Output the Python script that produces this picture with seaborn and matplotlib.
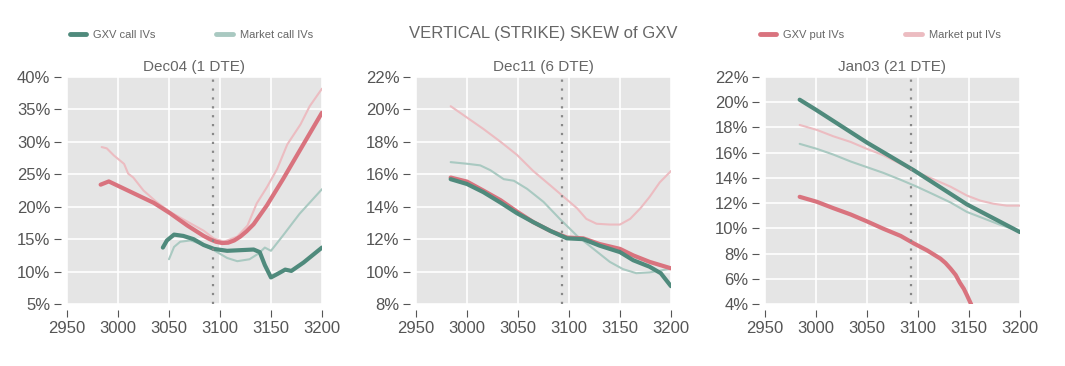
import pandas as pd
import seaborn as sns
import matplotlib.pyplot as plt
from matplotlib.ticker import FuncFormatter, MultipleLocator
from matplotlib.lines import Line2D
from matplotlib import font_manager

# ---- data (strike, IV in %) ----
spot = 3093

dec04_gxv_put_k = [2983, 2991, 3015, 3035, 3051, 3068, 3084, 3090, 3096, 3102, 3108, 3114, 3120, 3126, 3133,
                   3146, 3162, 3178, 3200]
dec04_gxv_put = [23.4, 23.9, 22.1, 20.6, 19.0, 17.1, 15.5, 15.0, 14.6, 14.4, 14.45, 14.8, 15.4, 16.2, 17.3,
                 20.2, 24.3, 28.6, 34.5]
dec04_mkt_put_k = [2984, 2989, 2996, 3006, 3010, 3015, 3025, 3038, 3051, 3068, 3084, 3094, 3104, 3117, 3127,
                   3136, 3146, 3156, 3166, 3179, 3188, 3200]
dec04_mkt_put = [29.2, 29.0, 27.9, 26.6, 25.1, 24.5, 22.5, 20.7, 19.2, 17.7, 16.3, 15.1, 14.6, 15.4, 17.1,
                 20.5, 23.0, 25.8, 29.6, 32.7, 35.5, 38.2]
dec04_gxv_call_k = [3044, 3048, 3055, 3064, 3074, 3084, 3094, 3107, 3120, 3133, 3139, 3144, 3150, 3156, 3164,
                    3170, 3182, 3200]
dec04_gxv_call = [13.7, 14.8, 15.7, 15.5, 15.0, 14.1, 13.5, 13.2, 13.3, 13.4, 13.0, 11.0, 9.1, 9.6, 10.3,
                  10.1, 11.4, 13.7]
dec04_mkt_call_k = [3050, 3055, 3061, 3071, 3081, 3094, 3107, 3117, 3129, 3138, 3144, 3150, 3162, 3178, 3200]
dec04_mkt_call = [11.9, 13.8, 14.6, 14.8, 14.3, 13.3, 12.1, 11.6, 11.9, 12.8, 13.7, 13.2, 15.6, 18.9, 22.7]

dec11_mkt_put_k = [2984, 3000, 3016, 3033, 3049, 3065, 3082, 3095, 3108, 3117, 3127, 3140, 3150, 3160, 3170,
                   3179, 3189, 3200]
dec11_mkt_put = [20.2, 19.5, 18.8, 18.0, 17.2, 16.2, 15.3, 14.6, 13.9, 13.25, 12.95, 12.9, 12.9, 13.25, 13.9,
                 14.6, 15.5, 16.2]
dec11_gxv_put_k = [2984, 3000, 3016, 3033, 3049, 3065, 3082, 3098, 3114, 3130, 3150, 3163, 3179, 3200]
dec11_gxv_put = [15.8, 15.55, 15.0, 14.4, 13.7, 13.05, 12.5, 12.1, 12.05, 11.7, 11.4, 11.0, 10.6, 10.2]
dec11_gxv_call_k = [2984, 3000, 3016, 3033, 3049, 3065, 3082, 3098, 3114, 3130, 3150, 3163, 3179, 3190, 3200]
dec11_gxv_call = [15.7, 15.4, 14.9, 14.25, 13.6, 13.05, 12.5, 12.05, 12.0, 11.6, 11.2, 10.7, 10.3, 9.9, 9.1]
dec11_mkt_call_k = [2984, 3000, 3013, 3023, 3036, 3046, 3059, 3075, 3091, 3108, 3124, 3140, 3153, 3166, 3179,
                    3189, 3200]
dec11_mkt_call = [16.75, 16.65, 16.55, 16.25, 15.7, 15.6, 15.1, 14.3, 13.25, 12.2, 11.4, 10.6, 10.15, 9.9, 9.95,
                  10.05, 10.2]

jan03_gxv_call_k = [2984, 3000, 3050, 3096, 3148, 3200]
jan03_gxv_call = [20.2, 19.4, 16.8, 14.6, 11.9, 9.7]
jan03_mkt_put_k = [2984, 3001, 3017, 3034, 3050, 3066, 3083, 3099, 3115, 3132, 3148, 3161, 3174, 3187, 3200]
jan03_mkt_put = [18.2, 17.8, 17.3, 16.85, 16.3, 15.8, 15.1, 14.45, 13.9, 13.3, 12.6, 12.2, 11.95, 11.8, 11.8]
jan03_mkt_call_k = [2984, 3001, 3017, 3034, 3050, 3066, 3083, 3099, 3115, 3132, 3148, 3164, 3180, 3200]
jan03_mkt_call = [16.7, 16.3, 15.85, 15.3, 14.85, 14.4, 13.85, 13.3, 12.7, 12.05, 11.3, 10.8, 10.3, 9.76]
jan03_gxv_put_k = [2984, 3001, 3017, 3034, 3050, 3066, 3083, 3096, 3109, 3115, 3122, 3127, 3132, 3137, 3141,
                   3145, 3148, 3152, 3156]
jan03_gxv_put = [12.5, 12.1, 11.6, 11.1, 10.55, 9.97, 9.4, 8.8, 8.25, 7.95, 7.6, 7.25, 6.8, 6.3, 5.7,
                 5.2, 4.7, 4.0, 3.2]

panel_titles = ["Dec04 (1 DTE)", "Dec11 (6 DTE)", "Jan03 (21 DTE)"]
panel_ylims = [(5, 40), (8, 22), (4, 22)]
panel_ysteps = [5, 2, 2]

c_gxv_call = "#4f8a7c"
c_mkt_call = "#a9c9c1"
c_gxv_put = "#d9737e"
c_mkt_put = "#ecbcc1"
grey = "#666666"

sns.set_style("darkgrid", {"axes.facecolor": "#e5e5e5", "grid.color": "white"})
plt.rcParams['font.family'] = ['Liberation Sans', 'DejaVu Sans']

# condensed face for the legend if the system has one
installed = {f.name for f in font_manager.fontManager.ttflist}
legend_font = "Liberation Sans Narrow" if "Liberation Sans Narrow" in installed else "Liberation Sans"
legend_size = 9.5 if legend_font == "Liberation Sans Narrow" else 8

panels = [
    [(dec04_mkt_call_k, dec04_mkt_call, c_mkt_call, 1.5), (dec04_mkt_put_k, dec04_mkt_put, c_mkt_put, 1.5),
     (dec04_gxv_call_k, dec04_gxv_call, c_gxv_call, 3.0), (dec04_gxv_put_k, dec04_gxv_put, c_gxv_put, 3.0)],
    [(dec11_mkt_call_k, dec11_mkt_call, c_mkt_call, 1.5), (dec11_mkt_put_k, dec11_mkt_put, c_mkt_put, 1.5),
     (dec11_gxv_put_k, dec11_gxv_put, c_gxv_put, 3.0), (dec11_gxv_call_k, dec11_gxv_call, c_gxv_call, 3.0)],
    [(jan03_mkt_call_k, jan03_mkt_call, c_mkt_call, 1.5), (jan03_mkt_put_k, jan03_mkt_put, c_mkt_put, 1.5),
     (jan03_gxv_put_k, jan03_gxv_put, c_gxv_put, 3.0), (jan03_gxv_call_k, jan03_gxv_call, c_gxv_call, 3.0)],
]

fig = plt.figure(figsize=(10.65, 3.66), dpi=100)
lefts = [0.0629, 0.3906, 0.7183]

for i, left in enumerate(lefts):
    ax = fig.add_axes([left, 0.1694, 0.2394, 0.6202])
    for k, v, col, lw in panels[i]:
        df = pd.DataFrame({"strike": k, "iv": v})
        sns.lineplot(data=df, x="strike", y="iv", color=col, lw=lw, ax=ax, sort=False)
    ax.axvline(spot, color="#888888", ls=(0, (1, 3)), lw=1.6)
    ax.set_xlim(2950, 3200)
    ax.set_ylim(*panel_ylims[i])
    ax.xaxis.set_major_locator(MultipleLocator(50))
    ax.yaxis.set_major_locator(MultipleLocator(panel_ysteps[i]))
    ax.yaxis.set_major_formatter(FuncFormatter(lambda y, p: f"{y:.0f}%"))
    ax.set_xlabel("")
    ax.set_ylabel("")
    for s in ax.spines.values():
        s.set_visible(False)
    ax.spines["left"].set_position(("outward", 4))
    ax.spines["bottom"].set_position(("outward", 4))
    ax.tick_params(axis="both", colors="#555555", labelsize=12, length=5, width=0.8,
                   direction="out", pad=3, left=True, bottom=True)
    ax.set_title(panel_titles[i], fontsize=11, color=grey, pad=4)
    ax.grid(True, color="white", lw=1.2)

fig.text(0.51, 0.908, "VERTICAL (STRIKE) SKEW of GXV", ha="center", va="center", fontsize=12, color=grey)

call_handles = [Line2D([], [], color=c_gxv_call, lw=3.5), Line2D([], [], color=c_mkt_call, lw=3.5)]
put_handles = [Line2D([], [], color=c_gxv_put, lw=3.5), Line2D([], [], color=c_mkt_put, lw=3.5)]
leg_kw = dict(ncol=2, frameon=False, handlelength=1.5, handletextpad=0.6, columnspacing=5.5,
              labelcolor=grey, prop={"family": legend_font, "size": legend_size})
fig.legend(call_handles, ["GXV call IVs", "Market call IVs"], loc="center left",
           bbox_to_anchor=(0.056, 0.905), **leg_kw)
fig.legend(put_handles, ["GXV put IVs", "Market put IVs"], loc="center left",
           bbox_to_anchor=(0.704, 0.905), **leg_kw)

fig.savefig("out.png", dpi=100)
